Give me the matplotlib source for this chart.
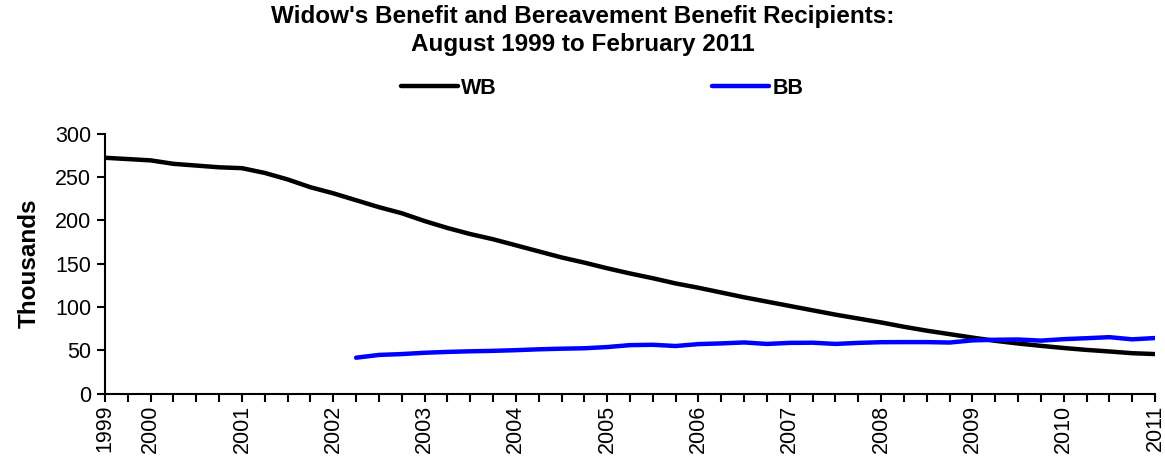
import numpy as np
import matplotlib
matplotlib.use("Agg")
import matplotlib.pyplot as plt

plt.rcParams['font.family'] = ['Liberation Sans', 'DejaVu Sans']

periods = ["Aug 1999", "Nov 1999",
           "Feb 2000", "May 2000", "Aug 2000", "Nov 2000",
           "Feb 2001", "May 2001", "Aug 2001", "Nov 2001",
           "Feb 2002", "May 2002", "Aug 2002", "Nov 2002",
           "Feb 2003", "May 2003", "Aug 2003", "Nov 2003",
           "Feb 2004", "May 2004", "Aug 2004", "Nov 2004",
           "Feb 2005", "May 2005", "Aug 2005", "Nov 2005",
           "Feb 2006", "May 2006", "Aug 2006", "Nov 2006",
           "Feb 2007", "May 2007", "Aug 2007", "Nov 2007",
           "Feb 2008", "May 2008", "Aug 2008", "Nov 2008",
           "Feb 2009", "May 2009", "Aug 2009", "Nov 2009",
           "Feb 2010", "May 2010", "Aug 2010", "Nov 2010",
           "Feb 2011"]

wb = [272, 270.5, 269, 265, 263, 261, 260, 254.5, 247, 238,
      231, 223, 215, 208, 199, 191, 184, 178, 171, 164,
      157, 151, 144.5, 138.5, 133, 127, 122, 116.5, 111, 106,
      101, 96, 91, 86.5, 82, 77, 72.5, 68.5, 64.5, 60.8,
      57.7, 55, 52.5, 50.3, 48.5, 46.5, 45.5]

bb = [None] * 11 + [41.3, 44.5, 45.5, 47, 48, 48.7, 49.2, 50, 51,
      51.7, 52.2, 53.6, 55.8, 56.2, 54.8, 57, 57.8, 58.9, 57.2,
      58.4, 58.6, 57.2, 58.4, 59.2, 59.3, 59.3, 58.8, 61.3, 62,
      62.3, 61, 62.7, 63.8, 65, 62.5, 64]

year_labels = {"Aug 1999": "1999", "Feb 2000": "2000", "Feb 2001": "2001",
               "Feb 2002": "2002", "Feb 2003": "2003", "Feb 2004": "2004",
               "Feb 2005": "2005", "Feb 2006": "2006", "Feb 2007": "2007",
               "Feb 2008": "2008", "Feb 2009": "2009", "Feb 2010": "2010",
               "Feb 2011": "2011"}

title_lines = ["Widow's Benefit and Bereavement Benefit Recipients:",
               "August 1999 to February 2011"]

x = np.arange(len(periods))
wb_arr = np.array(wb, dtype=float)
bb_arr = np.array([np.nan if v is None else v for v in bb], dtype=float)

fig = plt.figure(figsize=(11.65, 4.68), dpi=100)
W, H = 1165, 468
left, right, top, bottom = 105, 1155, 133.5, 393.5
ax = fig.add_axes([left / W, 1 - bottom / H, (right - left) / W, (bottom - top) / H])

l1, = ax.plot(x, wb_arr, color='black', lw=3.2, solid_capstyle='round', label='WB')
l2, = ax.plot(x, bb_arr, color='#0000FF', lw=3.2, solid_capstyle='round', label='BB')

ax.set_xlim(0, len(periods) - 1)
ax.set_ylim(0, 300)
ax.set_yticks(np.arange(0, 301, 50))
ax.set_xticks(x)
ax.set_xticklabels([year_labels.get(p, "") for p in periods], rotation=90,
                   fontsize=15.5)
for lab in ax.get_yticklabels():
    lab.set_fontsize(15.5)

ax.spines['top'].set_visible(False)
ax.spines['right'].set_visible(False)
for s in ('left', 'bottom'):
    ax.spines[s].set_linewidth(1.5)
ax.tick_params(axis='both', direction='out', length=6, width=1.5, color='black')
ax.tick_params(axis='x', pad=2)
ax.tick_params(axis='y', pad=4)

ax.set_ylabel("Thousands", fontsize=17.5, fontweight='bold', labelpad=10)

fig.text(0.5, 1 - 17 / H, title_lines[0], ha='center', va='center',
         fontsize=17.5, fontweight='bold')
fig.text(0.5, 1 - 44 / H, title_lines[1], ha='center', va='center',
         fontsize=17.5, fontweight='bold')

fig.legend(handles=[l1, l2], loc='center', bbox_to_anchor=(0.517, 1 - 88 / H),
           ncol=2, frameon=False, prop={'weight': 'bold', 'size': 15.5},
           handlelength=2.65, handletextpad=0.15, columnspacing=10.0,
           borderpad=0, borderaxespad=0)

fig.savefig("out.png", dpi=100)
